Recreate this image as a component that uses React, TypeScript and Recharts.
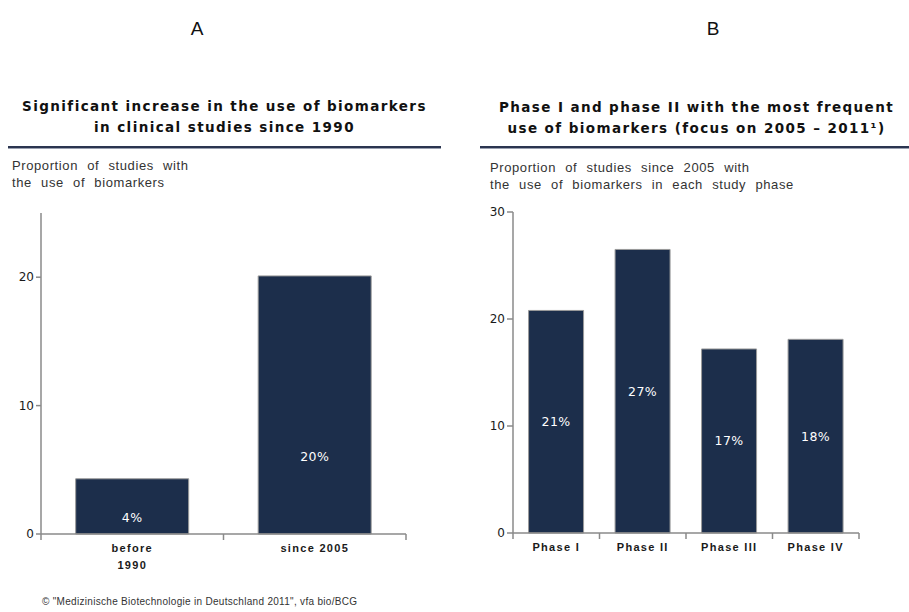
import React from "react";
import { BarChart, Bar, XAxis, YAxis, LabelList } from "recharts";

const periods = ["before\n1990", "since 2005"];
const periodShare = [4.3, 20.1];
const periodLabels = ["4%", "20%"];

const phases = ["Phase I", "Phase II", "Phase III", "Phase IV"];
const phaseShare = [20.8, 26.5, 17.2, 18.1];
const phaseLabels = ["21%", "27%", "17%", "18%"];

const ticksA = [0, 10, 20];
const ticksB = [0, 10, 20, 30];

const NAVY = "#1c2e4b";
const AXIS = "#8a8a8a";
const TEXT = "#1a1a1a";

const dataA = periods.map((name, i) => ({ name, value: periodShare[i], label: periodLabels[i] }));
const dataB = phases.map((name, i) => ({ name, value: phaseShare[i], label: phaseLabels[i] }));

// x tick: text under the bar, tick marks on the category borders
const CatTick = (props: any) => {
  const { x, y, payload, band, index, count } = props;
  const lines = String(payload.value).split("\n");
  return (
    <g>
      <line x1={x - band / 2} y1={y - 8} x2={x - band / 2} y2={y - 2} stroke={AXIS} strokeWidth={1.5} />
      {index === count - 1 && (
        <line x1={x + band / 2} y1={y - 8} x2={x + band / 2} y2={y - 2} stroke={AXIS} strokeWidth={1.5} />
      )}
      {lines.map((l, i) => (
        <text key={i} x={x} y={y + 10 + i * 17} textAnchor="middle" fontSize={11} fontWeight={700} letterSpacing={1.3} fill={TEXT} fontFamily="Liberation Sans, Arial">
          {l}
        </text>
      ))}
    </g>
  );
};

// value label inside the bar at a share of its height (measured from the top)
const inBar = (k: number) => (props: any) => {
  const { x, y, width, height, value } = props;
  return (
    <text x={x + width / 2} y={y + height * k} textAnchor="middle" dominantBaseline="central" fontSize={12.5} letterSpacing={0.4} fill="#fff" fontFamily="DejaVu Sans, Verdana">
      {value}
    </text>
  );
};

const yTick = { fontSize: 12, fill: TEXT, fontFamily: "DejaVu Sans, Verdana" };

export default function App() {
  const heading: React.CSSProperties = {
    position: "absolute",
    fontFamily: "DejaVu Sans, Verdana",
    fontWeight: 700,
    fontSize: 13.5,
    letterSpacing: 1.4,
    lineHeight: "21px",
    color: "#111",
    textAlign: "center",
    whiteSpace: "nowrap",
  };
  const sub: React.CSSProperties = {
    position: "absolute",
    fontFamily: "Liberation Sans, Arial",
    fontSize: 13,
    letterSpacing: 0.6,
    wordSpacing: 5,
    lineHeight: "17px",
    color: "#333",
    whiteSpace: "nowrap",
  };
  const rule: React.CSSProperties = {
    position: "absolute",
    height: 0,
    borderTop: "2px solid #2b3550",
    borderBottom: "1px solid #9aa0b0",
  };
  const letter: React.CSSProperties = {
    position: "absolute",
    top: 18,
    fontFamily: "Liberation Sans, Arial",
    fontSize: 19,
    color: "#111",
    width: 40,
    textAlign: "center",
  };

  return (
    <div style={{ position: "absolute", left: 0, top: 0, width: 909, height: 612, background: "#fff" }}>
      <div style={{ ...letter, left: 177 }}>A</div>
      <div style={{ ...letter, left: 693 }}>B</div>

      <div style={{ ...heading, left: 8, width: 433, top: 96 }}>
        Significant increase in the use of biomarkers
        <br />
        in clinical studies since 1990
      </div>
      <div style={{ ...rule, left: 8, width: 433, top: 146 }} />
      <div style={{ ...sub, left: 12, top: 157 }}>
        Proportion of studies with
        <br />
        the use of biomarkers
      </div>

      <div style={{ ...heading, left: 484, width: 425, top: 97 }}>
        Phase I and phase II with the most frequent
        <br />
        use of biomarkers (focus on 2005 – 2011¹)
      </div>
      <div style={{ ...rule, left: 480, width: 429, top: 146 }} />
      <div style={{ ...sub, left: 490, top: 159 }}>
        Proportion of studies since 2005 with
        <br />
        the use of biomarkers in each study phase
      </div>

      <div style={{ position: "absolute", left: 0, top: 200 }}>
        <BarChart width={430} height={374} data={dataA} margin={{ top: 13, right: 24, bottom: 0, left: 0 }} barCategoryGap="19%">
          <XAxis
            dataKey="name"
            height={40}
            stroke={AXIS}
            strokeWidth={1.5}
            tickLine={false}
            interval={0}
            tick={<CatTick band={(430 - 41 - 24) / periods.length} count={periods.length} />}
          />
          <YAxis width={41} domain={[0, 25]} ticks={ticksA} stroke={AXIS} strokeWidth={1.5} tickSize={5} tick={yTick} />
          <Bar dataKey="value" fill={NAVY} stroke="#9a9a9a" strokeWidth={1} isAnimationActive={false}>
            <LabelList dataKey="label" content={inBar(0.7)} />
          </Bar>
        </BarChart>
      </div>

      <div style={{ position: "absolute", left: 470, top: 200 }}>
        <BarChart width={400} height={373} data={dataB} margin={{ top: 12, right: 11, bottom: 0, left: 0 }} barCategoryGap="18%">
          <XAxis
            dataKey="name"
            height={40}
            stroke={AXIS}
            strokeWidth={1.5}
            tickLine={false}
            interval={0}
            tick={<CatTick band={(400 - 43 - 11) / phases.length} count={phases.length} />}
          />
          <YAxis width={43} domain={[0, 30]} ticks={ticksB} stroke={AXIS} strokeWidth={1.5} tickSize={6} tick={yTick} />
          <Bar dataKey="value" fill={NAVY} stroke="#9a9a9a" strokeWidth={1} isAnimationActive={false}>
            <LabelList dataKey="label" content={inBar(0.5)} />
          </Bar>
        </BarChart>
      </div>

      <div style={{ position: "absolute", left: 42, top: 596, fontFamily: "Liberation Sans, Arial", fontSize: 10, letterSpacing: 0.3, color: "#333" }}>
        © "Medizinische Biotechnologie in Deutschland 2011", vfa bio/BCG
      </div>
    </div>
  );
}
